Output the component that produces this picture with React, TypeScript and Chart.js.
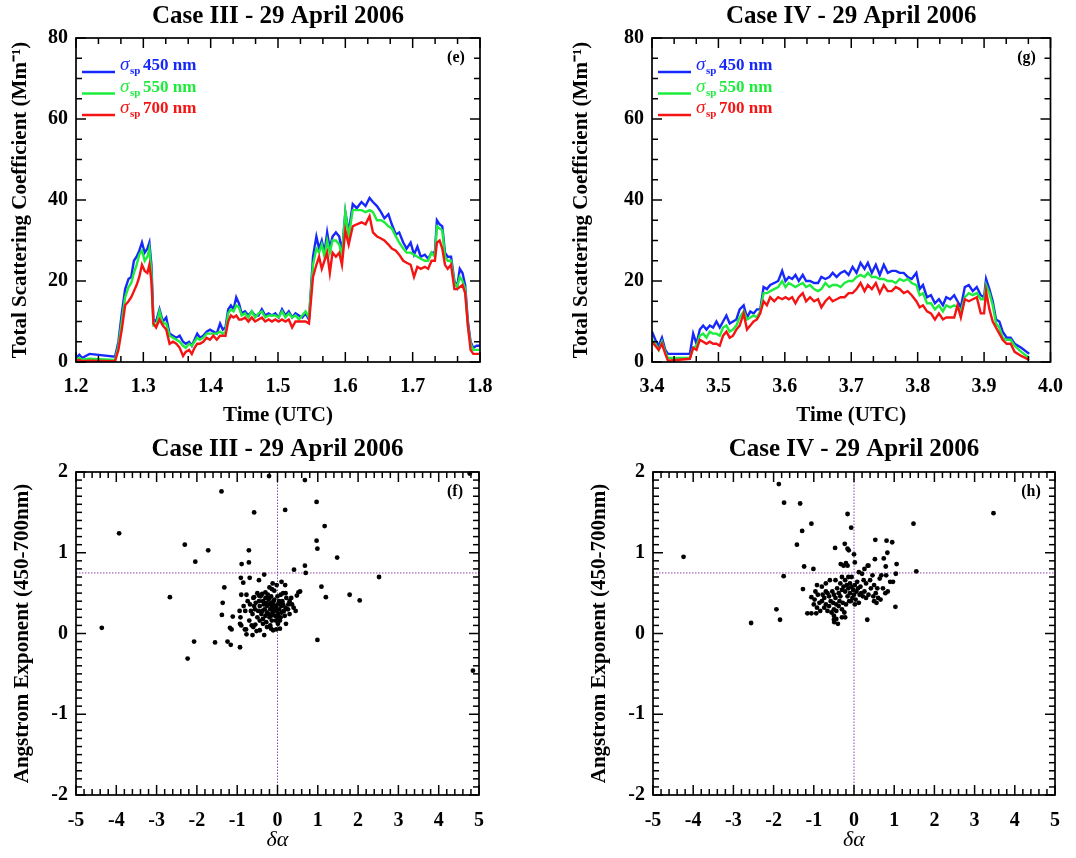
import React, { useEffect, useRef } from "react";
import { Chart, registerables } from "chart.js";
Chart.register(...registerables);

// ---------------- DATA ----------------
// Panel (e): Case III time series
const timeE = [
  1.200, 1.205, 1.209, 1.220, 1.258, 1.263, 1.268, 1.273, 1.278, 1.282,
  1.286, 1.290, 1.294, 1.298, 1.302, 1.306, 1.309, 1.312, 1.315, 1.319,
  1.324, 1.329, 1.334, 1.339, 1.344, 1.349, 1.354, 1.359, 1.363, 1.368,
  1.372, 1.376, 1.380, 1.384, 1.389, 1.394, 1.399, 1.404, 1.409, 1.414,
  1.418, 1.422, 1.426, 1.430, 1.434, 1.438, 1.442, 1.446, 1.451, 1.456,
  1.461, 1.466, 1.471, 1.476, 1.481, 1.486, 1.491, 1.496, 1.501, 1.506,
  1.511, 1.516, 1.521, 1.526, 1.531, 1.536, 1.541, 1.546,
  1.552, 1.557, 1.561, 1.565, 1.569, 1.573, 1.577, 1.581, 1.586, 1.591,
  1.595, 1.600, 1.605, 1.611, 1.617, 1.624, 1.630, 1.636, 1.641, 1.647,
  1.653, 1.658, 1.664, 1.669, 1.675, 1.680, 1.686, 1.691, 1.697, 1.702,
  1.707, 1.712, 1.718, 1.723, 1.728, 1.733, 1.736, 1.740, 1.744, 1.748,
  1.752, 1.757, 1.762, 1.766, 1.770, 1.774, 1.778, 1.782, 1.786, 1.790,
  1.795, 1.800,
];
const sigma450E = [
  1.0, 1.8, 1.0, 2.0, 1.3, 5, 12, 18, 20.5, 21,
  25, 26, 27.5, 29.5, 27, 28, 29.5, 24, 10.5, 10,
  13, 10, 11, 7, 6.5, 6, 6.5, 5, 4.5, 5,
  4, 5.5, 7, 6, 6.5, 7.5, 8, 7.5, 7, 9.5,
  8, 8.5, 13, 14, 13, 16, 14.5, 12, 12.5, 11.5,
  12.5, 11.5, 11.5, 13, 11.5, 12, 11.5, 12, 11, 13,
  11.5, 12.5, 11, 12, 11.5, 11, 12, 10.5,
  26, 31, 28, 30, 27, 32, 28, 31, 32, 31,
  27, 37, 32, 39, 38, 39.5, 38.5, 40.5, 39.5, 38.5,
  37, 35.5, 36.5, 34, 31.5, 32, 29.5, 28, 29.5, 26.5,
  28.5, 26, 26.5, 25.5, 27, 27, 35, 34, 33.5, 27,
  26, 26, 20, 18.5, 23, 22, 19, 10, 5, 3.5,
  4, 4,
];
const sigma550E = [
  0.6, 1.0, 0.6, 0.8, 0.5, 4, 10, 16, 18.5, 19.5,
  22, 24, 26.5, 27.5, 25, 26, 28, 22, 9, 9,
  12.5, 9.5, 9.5, 6.5, 6, 5.5, 5, 4, 3.5, 4.5,
  4, 5, 6, 5.5, 6, 7, 7, 7, 7, 7.5,
  7, 7.5, 12, 13, 12.5, 14, 13.5, 11.5, 12, 11,
  12.5, 11, 12, 12.5, 11, 11.5, 11.5, 11.5, 11, 12.5,
  11, 12, 11, 11.5, 10.5, 11.5, 12.5, 11,
  24, 28, 27, 29, 26, 30, 27, 30, 30, 29,
  26, 37, 31, 37.5, 37.5, 37.5, 37, 37.5, 37, 35,
  35, 34.5, 33.5, 33, 31, 29.5, 28, 27, 27, 26.5,
  26, 25.5, 25, 25, 27, 26, 33.5, 33, 32.5, 26,
  25, 25, 19.5, 18.5, 21, 20, 18, 9, 4.5, 3,
  3, 3,
];
const sigma700E = [
  0.3, 0.5, 0.2, 0.3, 0.2, 3, 8, 14, 15, 16,
  17.5, 19, 21, 24, 22.5, 22, 24, 20, 9.5, 8.5,
  10.5, 9, 8, 4.5, 5, 4.5, 3.5, 1.5, 2.5, 3,
  2, 3.5, 4.5, 4.5, 5, 6, 5.5, 6.5, 5.5, 6.5,
  6.5, 6.5, 10, 11.5, 11, 11.5, 10.5, 10.5, 11, 10,
  11, 10, 10.5, 11, 10, 10.5, 10, 10.5, 10, 10.5,
  10, 10.5, 8.5, 10, 10, 10, 10, 9.5,
  21, 24, 26, 23, 25, 27, 22, 27, 26, 27,
  24, 32.5, 29, 33.5, 34, 34.5, 34, 36, 32, 31,
  30.5, 30, 29, 28, 27.5, 26.5, 25, 24.5, 24, 21,
  23.5, 23, 23.5, 23, 25, 25, 29.5, 30, 28, 24,
  23, 24, 18, 18, 18.5, 19, 17, 9, 3, 2,
  2, 2,
];

// Panel (g): Case IV time series
const timeG = [
  3.400, 3.405, 3.410, 3.415, 3.420, 3.424, 3.457, 3.462, 3.467, 3.472,
  3.477, 3.482, 3.487, 3.492, 3.497, 3.502, 3.507, 3.512, 3.517, 3.522,
  3.527, 3.532, 3.538, 3.543, 3.548, 3.553, 3.558, 3.563, 3.568, 3.573,
  3.578, 3.584, 3.590, 3.596, 3.601, 3.606, 3.611, 3.616, 3.621, 3.627,
  3.632, 3.638, 3.644, 3.650, 3.655, 3.661, 3.667, 3.672, 3.678, 3.684,
  3.690, 3.696, 3.702, 3.708, 3.714, 3.720, 3.725, 3.731, 3.737, 3.743,
  3.749, 3.755, 3.761, 3.767, 3.773, 3.779, 3.785, 3.791, 3.798, 3.803,
  3.808, 3.814, 3.820, 3.826, 3.832, 3.838, 3.843, 3.849, 3.855, 3.860,
  3.865, 3.871, 3.877, 3.883, 3.889, 3.895, 3.900, 3.903, 3.908, 3.913,
  3.918, 3.923, 3.928, 3.934, 3.940, 3.946, 3.956, 3.968,
];
const sigma450G = [
  7.5, 5.5, 4, 6, 3, 2, 2, 7, 4.5, 8,
  9, 8, 9, 8.5, 10, 8.5, 10, 11.5, 9.5, 10,
  10.5, 13, 14, 11, 12.5, 12, 13, 13, 18.5, 18,
  19, 19.5, 20, 22.5, 20, 21, 20.5, 21.5, 20, 21.5,
  20, 20, 19.5, 19.5, 21, 20.5, 21, 22, 21, 22,
  22.5, 21.5, 23.5, 22, 24.5, 23, 24.5, 22, 24, 21.5,
  24, 22, 22.5, 22.5, 22, 22, 21, 20.5, 22, 18,
  19, 16, 16.5, 14.5, 15.5, 14, 16, 15.5, 16.5, 15,
  13.5, 18.5, 19, 17.5, 18.5, 16.5, 16, 20.5, 18, 15,
  10.5, 10, 7.5, 6, 6, 4.5, 3.5, 2,
];
const sigma550G = [
  5.5, 4.5, 3, 5, 2.5, 1, 1, 3.5, 4, 6.5,
  7, 6, 7.5, 7, 7, 6.5, 8.5, 9, 7.5, 8,
  9, 11, 12.5, 10.5, 11, 11.5, 11, 12.5, 17, 17,
  17.5, 18, 18.5, 20, 18.5, 19.5, 19, 18.5, 19, 19.5,
  18.5, 19, 18, 17.5, 18, 19.5, 18.5, 19, 19, 18.5,
  19.5, 20, 20, 21, 21.5, 21, 22, 21, 21, 20.5,
  20.5, 20, 20, 19.5, 20.5, 20, 20.5, 19.5, 19, 16.5,
  17, 14.5, 14.5, 13, 14, 12.5, 14, 13.5, 14, 13.5,
  12.5, 16, 17, 16.5, 17, 15.5, 15.5, 19, 17, 14,
  9.5, 8.5, 6, 5.5, 5.5, 4, 2.5, 1,
];
const sigma700G = [
  5, 4, 3, 4.5, 2, 0.3, 0.8, 3.5, 3, 5.5,
  5, 4.5, 5, 4.5, 4.5, 4, 6.5, 7.5, 6, 6.5,
  8, 9, 12, 8, 9, 10, 10.5, 12, 15, 14,
  16, 15, 16, 15.5, 16, 15.5, 16, 14.5, 16, 17,
  15, 16, 15, 15.5, 13.5, 15, 16, 15, 15.5, 16,
  16, 17, 17, 18, 19.5, 17.5, 19, 18, 19.5, 17,
  19, 17.5, 17.5, 18.5, 18, 17, 17.5, 16.5, 15, 13.5,
  14, 12.5, 12, 10.5, 12, 10.5, 11, 11, 11, 14,
  11, 15.5, 15, 15.5, 16, 12, 12, 17.5, 13, 10,
  8.5, 7, 5.5, 4.5, 4.5, 2.5, 1.5, 0.5,
];

// Panel (f): Case III, [delta alpha, Angstrom exponent]
const scatterF: [number, number][] = [
  [-0.21, 1.95], [0.68, 1.9], [4.77, 1.98], [-1.39, 1.76], [0.97, 1.63], [-0.58, 1.5], [0.19, 1.53],
  [1.17, 1.33], [-3.93, 1.24], [0.97, 1.15], [-2.3, 1.1], [-1.72, 1.03], [-0.71, 1.03], [0.99, 1.05],
  [1.48, 0.94], [-2.04, 0.89], [-0.89, 0.86], [-0.71, 0.88], [0.68, 0.84], [0.41, 0.79], [0.7, 0.75],
  [-0.33, 0.73], [-0.91, 0.69], [-0.69, 0.69], [-0.46, 0.66], [2.52, 0.7], [-0.85, 0.63], [1.09, 0.58],
  [-1.32, 0.57], [-2.67, 0.45], [1.2, 0.45], [1.79, 0.48], [2.04, 0.41], [-1.36, 0.38], [-1.38, 0.23],
  [-1.11, 0.21], [-4.36, 0.07], [-1.18, 0.07], [-1.14, 0.05], [-0.93, 0.12], [-0.81, 0.05], [-0.77, -0.01],
  [-0.62, -0.02], [-0.33, -0.02], [-2.07, -0.1], [-1.55, -0.11], [-1.24, -0.1], [-1.16, -0.14],
  [-0.93, -0.17], [-2.23, -0.31], [0.99, -0.08], [4.85, -0.46],
  [-0.9, 0.48], [-0.77, 0.48], [-0.58, 0.45], [-0.46, 0.47], [-0.38, 0.49], [-0.3, 0.51], [-0.2, 0.57],
  [-0.14, 0.55], [-0.08, 0.53], [0.0, 0.46], [0.08, 0.48], [0.19, 0.6], [0.22, 0.44], [0.27, 0.36],
  [0.36, 0.36], [0.45, 0.28], [0.48, 0.47], [0.52, 0.51], [0.56, 0.52], [0.21, 0.12], [-0.11, 0.04],
  [-0.03, 0.05], [0.01, 0.12], [-0.44, 0.04], [-0.52, 0.03], [-0.64, 0.1], [-0.55, 0.11], [-0.44, 0.16],
  [-0.92, 0.2], [-0.8, 0.28], [-0.68, 0.36], [-0.56, 0.3], [-0.44, 0.34], [-0.36, 0.4], [-0.28, 0.38],
  [-0.22, 0.42], [-0.16, 0.38], [-0.1, 0.35], [-0.04, 0.32], [0.04, 0.3], [0.1, 0.34], [0.16, 0.28],
  [0.12, 0.4], [-0.32, 0.3], [-0.26, 0.26], [-0.18, 0.3], [-0.12, 0.26], [-0.06, 0.22], [0.02, 0.24],
  [0.08, 0.2], [-0.4, 0.24], [-0.5, 0.2], [-0.62, 0.24], [-0.7, 0.16], [-0.36, 0.18], [-0.28, 0.14],
  [-0.2, 0.2], [-0.14, 0.16], [-0.04, 0.16], [0.06, 0.16], [-0.3, 0.44], [-0.24, 0.48], [-0.16, 0.46],
  [-0.08, 0.42], [0.04, 0.4], [-0.46, 0.4], [-0.54, 0.38], [-0.6, 0.44], [-0.34, 0.36], [-0.26, 0.34],
  [-0.2, 0.36], [-0.14, 0.32], [-0.08, 0.3], [0.0, 0.36], [0.06, 0.36], [0.14, 0.36], [0.2, 0.32],
  [0.26, 0.3], [0.3, 0.4], [-0.38, 0.28], [-0.3, 0.22], [-0.22, 0.24], [-0.16, 0.22], [-0.1, 0.4],
  [-0.02, 0.28], [0.1, 0.26], [-0.48, 0.28], [-0.58, 0.34], [-0.66, 0.28], [-0.74, 0.4], [-0.84, 0.34],
  [-0.94, 0.28], [-0.9, 0.1], [-0.78, 0.05], [-0.6, 0.08], [-0.26, 0.08], [-0.16, 0.06], [0.06, 0.06],
  [0.2, 0.5], [0.34, 0.44], [0.4, 0.32], [0.14, 0.5], [-0.02, 0.6], [0.1, 0.64], [-0.12, 0.62],
  [-0.2, 0.44], [-0.42, 0.46], [-0.5, 0.5], [-0.36, 0.12], [-0.18, 0.1], [0.0, 0.2], [0.18, 0.22],
  [0.3, 0.24],
];

// Panel (h): Case IV, [delta alpha, Angstrom exponent]
const scatterH: [number, number][] = [
  [-1.87, 1.85], [-1.74, 1.62], [-1.34, 1.61], [-0.16, 1.48], [3.47, 1.49], [-1.06, 1.36], [1.48, 1.36],
  [-0.07, 1.31], [-1.29, 1.27], [0.53, 1.16], [0.81, 1.15], [0.95, 1.13], [-1.42, 1.1], [-0.23, 1.11],
  [-0.47, 1.06], [-0.16, 1.05], [-0.13, 1.03], [0.83, 1.0], [0.0, 0.98], [-4.24, 0.95], [0.52, 0.92],
  [0.74, 0.93], [-0.2, 0.87], [0.02, 0.88], [-0.33, 0.86], [1.06, 0.86], [-1.24, 0.83], [-1.01, 0.8],
  [0.26, 0.8], [0.34, 0.84], [0.79, 0.83], [1.55, 0.77], [-1.75, 0.71], [1.04, 0.74], [-1.93, 0.3],
  [-1.84, 0.17], [-2.56, 0.13], [-1.16, 0.25], [-1.06, 0.25], [-0.94, 0.25], [-0.49, 0.14], [-0.5, 0.17],
  [0.33, 0.17], [1.03, 0.33], [0.97, 0.64], [-1.27, 0.55],
  [-1.06, 0.45], [-0.98, 0.42], [-0.9, 0.48], [-0.86, 0.38], [-0.8, 0.4], [-0.74, 0.44], [-0.7, 0.36],
  [-0.66, 0.5], [-0.62, 0.46], [-0.58, 0.4], [-0.54, 0.52], [-0.5, 0.48], [-0.46, 0.44], [-0.42, 0.56],
  [-0.38, 0.5], [-0.34, 0.46], [-0.3, 0.54], [-0.26, 0.58], [-0.22, 0.52], [-0.18, 0.6], [-0.14, 0.56],
  [-0.1, 0.62], [-0.06, 0.58], [-0.02, 0.54], [0.02, 0.6], [0.06, 0.52], [0.1, 0.56], [0.14, 0.48],
  [0.18, 0.5], [0.22, 0.46], [0.26, 0.52], [0.3, 0.44], [0.36, 0.48], [0.42, 0.56], [0.48, 0.46],
  [0.54, 0.5], [0.6, 0.44], [0.66, 0.42], [0.72, 0.56], [0.78, 0.5], [0.84, 0.52], [0.9, 0.64],
  [0.3, 0.62], [0.4, 0.66], [0.5, 0.6], [0.64, 0.68], [0.8, 0.72], [0.68, 0.72], [0.2, 0.74],
  [0.36, 0.84], [0.12, 0.76], [-0.16, 0.84], [-0.26, 0.84], [-0.06, 0.7], [-0.14, 0.7], [-0.3, 0.7],
  [-0.46, 0.66], [-0.6, 0.66], [-0.7, 0.62], [-0.8, 0.58], [-0.92, 0.6], [-1.0, 0.36], [-0.92, 0.32],
  [-0.84, 0.28], [-0.74, 0.32], [-0.66, 0.28], [-0.56, 0.26], [-0.5, 0.3], [-0.44, 0.28], [-0.38, 0.34],
  [-0.3, 0.3], [-0.24, 0.26], [-0.2, 0.36], [-0.12, 0.4], [-0.04, 0.44], [0.04, 0.42], [0.12, 0.38],
  [-0.5, 0.22], [-0.44, 0.18], [-0.4, 0.12], [-0.3, 0.2], [-0.22, 0.2], [-0.28, 0.38], [-0.36, 0.4],
  [-0.44, 0.36], [-0.52, 0.38], [-0.62, 0.34], [-0.7, 0.52], [-0.78, 0.48], [-0.34, 0.62], [-0.22, 0.66],
  [-0.1, 0.5], [0.0, 0.48], [0.08, 0.64], [0.16, 0.58], [0.24, 0.66], [0.5, 0.4], [0.58, 0.56],
  [0.46, 0.72], [0.56, 0.38], [-0.96, 0.52], [-0.16, 0.46], [-0.08, 0.4], [0.02, 0.36],
];

const legendLabels = ["450 nm", "550 nm", "700 nm"];
const REF_ANGSTROM = 0.75;
const REF_DELTA = 0;

// ---------------- STYLE ----------------
const SERIF = '"Liberation Serif", "Times New Roman", Times, serif';
const BLUE = "rgb(22,40,250)";
const GREEN = "rgb(30,236,60)";
const RED = "rgb(245,20,20)";
const PURPLE = "rgb(140,70,170)";
const SERIES_COLORS = [BLUE, GREEN, RED];

type Spec = {
  left: number; top: number; w: number; h: number;
  plotL: number; plotT: number; plotR: number; plotB: number;
  kind: "line" | "scatter";
  xMin: number; xMax: number; xStep: number; xMinor: number; xPer: number; xDec: number;
  yMin: number; yMax: number; yStep: number; yMinor: number; yPer: number;
  xTitle: string; xTitleFont: any; xTitlePadB: number; xTickPad: number;
  yTitle: string; yTitlePadT: number;
  title: string; titleY: number; tag: string;
  legend: boolean;
  datasets: any[];
};

function makeDecor(spec: Spec) {
  return {
    id: "decor",
    afterDraw(chart: any) {
      const ctx: CanvasRenderingContext2D = chart.ctx;
      const a = chart.chartArea;
      const xs = chart.scales.x;
      const ys = chart.scales.y;
      ctx.save();
      const seg = (x1: number, y1: number, x2: number, y2: number) => {
        ctx.beginPath();
        ctx.moveTo(x1, y1);
        ctx.lineTo(x2, y2);
        ctx.stroke();
      };
      ctx.setLineDash([]);
      ctx.strokeStyle = "#000000";
      ctx.lineWidth = 1.5;
      const nx = Math.round((spec.xMax - spec.xMin) / spec.xMinor);
      for (let i = 0; i <= nx; i++) {
        const p = xs.getPixelForValue(spec.xMin + i * spec.xMinor);
        const len = i % spec.xPer === 0 ? 10 : 6;
        seg(p, a.bottom, p, a.bottom - len);
        seg(p, a.top, p, a.top + len);
      }
      const ny = Math.round((spec.yMax - spec.yMin) / spec.yMinor);
      for (let i = 0; i <= ny; i++) {
        const p = ys.getPixelForValue(spec.yMin + i * spec.yMinor);
        const len = i % spec.yPer === 0 ? 10 : 6;
        seg(a.left, p, a.left + len, p);
        seg(a.right, p, a.right - len, p);
      }
      ctx.lineWidth = 1.7;
      ctx.strokeRect(a.left, a.top, a.right - a.left, a.bottom - a.top);

      ctx.fillStyle = "#000";
      ctx.textAlign = "center";
      ctx.textBaseline = "middle";
      ctx.font = `bold 25px ${SERIF}`;
      ctx.fillText(spec.title, (a.left + a.right) / 2, spec.titleY);
      ctx.font = `bold 16px ${SERIF}`;
      ctx.fillText(spec.tag, a.right - 24, a.top + 20);

      if (spec.legend) {
        legendLabels.forEach((lab, i) => {
          const y0 = a.top + 34 + i * 21.5;
          const c = SERIES_COLORS[i];
          ctx.strokeStyle = c;
          ctx.lineWidth = 2.5;
          seg(a.left + 6, y0, a.left + 39, y0);
          ctx.fillStyle = c;
          ctx.textAlign = "left";
          ctx.textBaseline = "alphabetic";
          ctx.font = `italic 19px ${SERIF}`;
          ctx.fillText("σ", a.left + 44, y0 - 2);
          ctx.font = `bold 11px ${SERIF}`;
          ctx.fillText("sp", a.left + 54, y0 + 2);
          ctx.font = `bold 17px ${SERIF}`;
          ctx.fillText(lab, a.left + 67, y0 - 2);
        });
      }
      ctx.restore();
    },
  };
}

function buildConfig(spec: Spec): any {
  const tickFont = { family: SERIF, size: 20, weight: "bold" };
  const yAxisW = spec.plotL - spec.left;
  const xAxisH = spec.top + spec.h - spec.plotB;
  return {
    type: spec.kind,
    data: { datasets: spec.datasets },
    plugins: [makeDecor(spec)],
    options: {
      responsive: false,
      animation: false,
      events: [],
      layout: {
        padding: { top: spec.plotT - spec.top, right: spec.left + spec.w - spec.plotR, left: 0, bottom: 0 },
      },
      plugins: { legend: { display: false }, tooltip: { enabled: false }, title: { display: false } },
      scales: {
        x: {
          type: "linear",
          min: spec.xMin,
          max: spec.xMax,
          afterFit: (s: any) => { s.height = xAxisH; },
          grid: { display: false, drawTicks: false },
          border: { display: false },
          ticks: {
            stepSize: spec.xStep,
            autoSkip: false,
            maxRotation: 0,
            padding: spec.xTickPad,
            color: "#000",
            font: tickFont,
            callback: (v: any) => Number(v).toFixed(spec.xDec),
          },
          title: {
            display: true,
            text: spec.xTitle,
            color: "#000",
            font: spec.xTitleFont,
            padding: { top: 0, bottom: spec.xTitlePadB },
          },
        },
        y: {
          type: "linear",
          min: spec.yMin,
          max: spec.yMax,
          afterFit: (s: any) => { s.width = yAxisW; },
          grid: { display: false, drawTicks: false },
          border: { display: false },
          ticks: {
            stepSize: spec.yStep,
            padding: 8,
            color: "#000",
            font: tickFont,
            callback: (v: any) => String(Math.round(Number(v))),
          },
          title: {
            display: true,
            text: spec.yTitle,
            color: "#000",
            font: { family: SERIF, size: 21, weight: "bold" },
            padding: { top: spec.yTitlePadT, bottom: 0 },
          },
        },
      },
    },
  };
}

function lineSets(t: number[], a: number[], b: number[], c: number[]) {
  return [a, b, c].map((vals, i) => ({
    data: t.map((x, k) => ({ x, y: vals[k] })),
    borderColor: SERIES_COLORS[i],
    borderWidth: 2.4,
    pointRadius: 0,
    tension: 0,
    fill: false,
    order: 3 - i,
  }));
}

function scatterSets(pts: [number, number][]) {
  return [
    {
      data: pts.map(([x, y]) => ({ x, y })),
      backgroundColor: "#000",
      borderWidth: 0,
      pointRadius: 2.4,
      order: 0,
    },
    {
      type: "line",
      data: [{ x: -5, y: REF_ANGSTROM }, { x: 5, y: REF_ANGSTROM }],
      borderColor: PURPLE,
      borderWidth: 1,
      borderDash: [1.5, 1.5],
      pointRadius: 0,
      showLine: true,
      order: 1,
    },
    {
      type: "line",
      data: [{ x: REF_DELTA, y: -2 }, { x: REF_DELTA, y: 2 }],
      borderColor: PURPLE,
      borderWidth: 1,
      borderDash: [1.5, 1.5],
      pointRadius: 0,
      showLine: true,
      order: 1,
    },
  ];
}

const yTitleTop = "Total Scattering Coefficient (Mm⁻¹)";
const yTitleBottom = "Angstrom Exponent (450-700nm)";
const timeTitleFont = { family: SERIF, size: 21, weight: "bold" };
const deltaTitleFont = { family: SERIF, size: 22, style: "italic", weight: "normal" };

const specs: Spec[] = [
  {
    left: 0, top: 0, w: 540, h: 430, plotL: 76, plotT: 38, plotR: 480, plotB: 362,
    kind: "line", xMin: 1.2, xMax: 1.8, xStep: 0.1, xMinor: 0.1 / 3, xPer: 3, xDec: 1,
    yMin: 0, yMax: 80, yStep: 20, yMinor: 5, yPer: 4,
    xTitle: "Time (UTC)", xTitleFont: timeTitleFont, xTitlePadB: 1.4, xTickPad: 13,
    yTitle: yTitleTop, yTitlePadT: 8.4,
    title: "Case III - 29 April 2006", titleY: 17, tag: "(e)", legend: true,
    datasets: lineSets(timeE, sigma450E, sigma550E, sigma700E),
  },
  {
    left: 560, top: 0, w: 516, h: 430, plotL: 652, plotT: 38, plotR: 1055, plotB: 362,
    kind: "line", xMin: 3.4, xMax: 4.0, xStep: 0.1, xMinor: 0.1 / 3, xPer: 3, xDec: 1,
    yMin: 0, yMax: 80, yStep: 20, yMinor: 5, yPer: 4,
    xTitle: "Time (UTC)", xTitleFont: timeTitleFont, xTitlePadB: 1.4, xTickPad: 13,
    yTitle: yTitleTop, yTitlePadT: 9.4,
    title: "Case IV - 29 April 2006", titleY: 17, tag: "(g)", legend: true,
    datasets: lineSets(timeG, sigma450G, sigma550G, sigma700G),
  },
  {
    left: 0, top: 430, w: 540, h: 428, plotL: 76, plotT: 472, plotR: 479, plotB: 795,
    kind: "scatter", xMin: -5, xMax: 5, xStep: 1, xMinor: 0.2, xPer: 5, xDec: 0,
    yMin: -2, yMax: 2, yStep: 1, yMinor: 0.1, yPer: 10,
    xTitle: "δα", xTitleFont: deltaTitleFont, xTitlePadB: 4.8, xTickPad: 14,
    yTitle: yTitleBottom, yTitlePadT: 10.4,
    title: "Case III - 29 April 2006", titleY: 20, tag: "(f)", legend: false,
    datasets: scatterSets(scatterF),
  },
  {
    left: 560, top: 430, w: 516, h: 428, plotL: 653, plotT: 472, plotR: 1055, plotB: 795,
    kind: "scatter", xMin: -5, xMax: 5, xStep: 1, xMinor: 0.2, xPer: 5, xDec: 0,
    yMin: -2, yMax: 2, yStep: 1, yMinor: 0.1, yPer: 10,
    xTitle: "δα", xTitleFont: deltaTitleFont, xTitlePadB: 4.8, xTickPad: 14,
    yTitle: yTitleBottom, yTitlePadT: 27.4,
    title: "Case IV - 29 April 2006", titleY: 20, tag: "(h)", legend: false,
    datasets: scatterSets(scatterH),
  },
];

function Panel({ spec }: { spec: Spec }) {
  const ref = useRef<HTMLCanvasElement>(null);
  useEffect(() => {
    const chart = new Chart(ref.current as HTMLCanvasElement, buildConfig(spec));
    return () => chart.destroy();
  }, [spec]);
  return (
    <canvas
      ref={ref}
      width={spec.w}
      height={spec.h}
      style={{ position: "absolute", left: spec.left, top: spec.top, width: spec.w, height: spec.h }}
    />
  );
}

export default function App() {
  return (
    <div style={{ position: "absolute", left: 0, top: 0, width: 1076, height: 858, background: "#fff", overflow: "hidden" }}>
      {specs.map((s, i) => (
        <Panel key={i} spec={s} />
      ))}
    </div>
  );
}
